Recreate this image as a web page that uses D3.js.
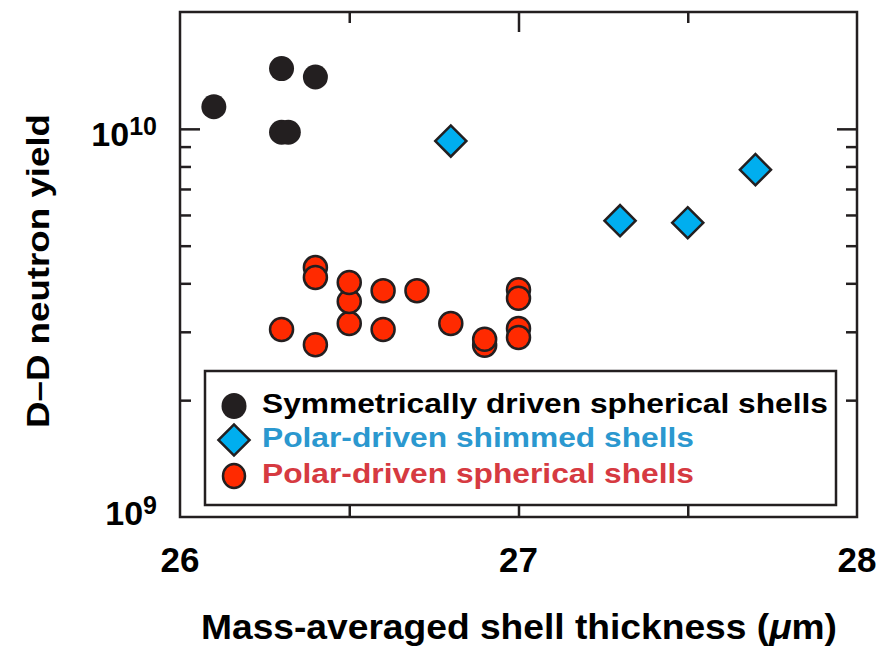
<!DOCTYPE html>
<html>
<head>
<meta charset="utf-8">
<script src="https://cdn.jsdelivr.net/npm/d3@7"></script>
<style>
    body { margin: 0; background: #fff; }
    text { font-family: "Liberation Sans", Arial, sans-serif; font-weight: bold; }
</style>
</head>
<body>
<div id="chart"></div>
<script>
// Symmetrically driven spherical shells
const symThickness = [26.1, 26.3, 26.4, 26.3, 26.32];
const symYield = [1.14e10, 1.43e10, 1.36e10, 9.8e9, 9.8e9];

// Polar-driven shimmed shells
const shimThickness = [26.8, 27.3, 27.5, 27.7];
const shimYield = [9.3e9, 5.8e9, 5.73e9, 7.85e9];

// Polar-driven spherical shells (drawing order matters for overlaps)
const sphThickness = [26.3, 26.4, 26.4, 26.4, 26.5, 26.5, 26.5, 26.6, 26.6, 26.7, 26.8, 26.9, 26.9, 27.0, 27.0, 27.0, 27.0];
const sphYield = [3.04e9, 4.39e9, 4.14e9, 2.78e9, 3.15e9, 3.59e9, 4.02e9, 3.83e9, 3.04e9, 3.83e9, 3.15e9, 2.77e9, 2.87e9, 3.85e9, 3.66e9, 3.06e9, 2.90e9];

const xTicks = [26, 27, 28];
const xMinorTicks = [26.5, 27.5];
const yMajorTicks = [1e10];
const yMinorTicks = [2e9, 3e9, 4e9, 5e9, 6e9, 7e9, 8e9, 9e9];
const yTickLabels = [{v: 1e9, exp: "9"}, {v: 1e10, exp: "10"}];

const legendLabels = ["Symmetrically driven spherical shells", "Polar-driven shimmed shells", "Polar-driven spherical shells"];

const ink = "#231f20";

const W = 886, H = 647;
const margin = {top: 12, right: 29, bottom: 130, left: 180};
const width = W - margin.left - margin.right;
const height = H - margin.top - margin.bottom;

const svg = d3.select("#chart").append("svg")
    .attr("width", W)
    .attr("height", H);

const g = svg.append("g")
    .attr("transform", `translate(${margin.left}, ${margin.top})`);

const x = d3.scaleLinear().domain([26, 28]).range([0, width]);
const y = d3.scaleLog().domain([1e9, 2e10]).range([height, 0]);

// ticks (all pointing inward)
function tickAxis(axis, values, size, transform) {
    const a = g.append("g")
        .attr("transform", transform)
        .call(axis.tickValues(values).tickSize(-size).tickFormat(""));
    a.select(".domain").remove();
    a.selectAll("line").attr("stroke", ink).attr("stroke-width", 2.5);
}
tickAxis(d3.axisLeft(y), yMajorTicks, 20, "translate(0,0)");
tickAxis(d3.axisLeft(y), yMinorTicks, 11, "translate(0,0)");
tickAxis(d3.axisRight(y), yMajorTicks, 20, `translate(${width},0)`);
tickAxis(d3.axisRight(y), yMinorTicks, 11, `translate(${width},0)`);
tickAxis(d3.axisTop(x), [27], 20, "translate(0,0)");
tickAxis(d3.axisTop(x), xMinorTicks, 11, "translate(0,0)");
tickAxis(d3.axisBottom(x), [27], 20, `translate(0,${height})`);
tickAxis(d3.axisBottom(x), xMinorTicks, 11, `translate(0,${height})`);

// frame
g.append("rect")
    .attr("width", width)
    .attr("height", height)
    .attr("fill", "none")
    .attr("stroke", ink)
    .attr("stroke-width", 2.5);

// x tick labels
g.selectAll(".xlabel")
    .data(xTicks)
    .join("text")
    .attr("class", "xlabel")
    .attr("x", d => x(d))
    .attr("y", height + 55)
    .attr("text-anchor", "middle")
    .attr("font-size", 35)
    .attr("fill", "#000")
    .text(d => d);

// y tick labels with superscripts
const yl = g.selectAll(".ylabel")
    .data(yTickLabels)
    .join("text")
    .attr("class", "ylabel")
    .attr("x", -23)
    .attr("y", d => y(d.v) + (d.v === 1e9 ? 8 : 17))
    .attr("text-anchor", "end")
    .attr("fill", "#000");
yl.append("tspan").attr("font-size", 34).text("10");
yl.append("tspan").attr("font-size", 25).attr("dy", -11).text(d => d.exp);

// axis titles
svg.append("text")
    .attr("x", 519)
    .attr("y", 639)
    .attr("text-anchor", "middle")
    .attr("font-size", 35)
    .attr("textLength", 636)
    .attr("lengthAdjust", "spacingAndGlyphs")
    .attr("fill", "#000")
    .html('Mass-averaged shell thickness (<tspan font-style="italic">μ</tspan>m)');

svg.append("text")
    .attr("transform", "translate(49, 271) rotate(-90)")
    .attr("text-anchor", "middle")
    .attr("font-size", 32)
    .attr("textLength", 314)
    .attr("lengthAdjust", "spacingAndGlyphs")
    .attr("fill", "#000")
    .text("D–D neutron yield");

// data marks
const sym = d3.zip(symThickness, symYield);
const shim = d3.zip(shimThickness, shimYield);
const sph = d3.zip(sphThickness, sphYield);

g.selectAll(".sym")
    .data(sym)
    .join("circle")
    .attr("class", "sym")
    .attr("cx", d => x(d[0]))
    .attr("cy", d => y(d[1]))
    .attr("r", 12.5)
    .attr("fill", ink);

const diamond = d3.symbol().type(d3.symbolSquare).size(22 * 22);

g.selectAll(".shim")
    .data(shim)
    .join("path")
    .attr("class", "shim")
    .attr("d", diamond)
    .attr("transform", d => `translate(${x(d[0])}, ${y(d[1])}) rotate(45)`)
    .attr("fill", "#00aeef")
    .attr("stroke", ink)
    .attr("stroke-width", 2.5);

g.selectAll(".sph")
    .data(sph)
    .join("circle")
    .attr("class", "sph")
    .attr("cx", d => x(d[0]))
    .attr("cy", d => y(d[1]))
    .attr("r", 11.5)
    .attr("fill", "#ff2a00")
    .attr("stroke", ink)
    .attr("stroke-width", 2.5);

// legend
const legend = svg.append("g")
    .attr("transform", "translate(205, 371)");

legend.append("rect")
    .attr("width", 631)
    .attr("height", 134)
    .attr("fill", "#fff")
    .attr("stroke", ink)
    .attr("stroke-width", 2.5);

const rowY = [35, 69, 105];
const legendColours = ["#000", "#2b98cf", "#d63a41"];
const legendWidths = [566, 432, 432];

legend.append("ellipse")
    .attr("cx", 29).attr("cy", rowY[0])
    .attr("rx", 12.5).attr("ry", 13)
    .attr("fill", ink);
legend.append("path")
    .attr("d", diamond)
    .attr("transform", `translate(29, ${rowY[1]}) rotate(45)`)
    .attr("fill", "#00aeef")
    .attr("stroke", ink)
    .attr("stroke-width", 2.5);
legend.append("ellipse")
    .attr("cx", 29).attr("cy", rowY[2])
    .attr("rx", 11).attr("ry", 12)
    .attr("fill", "#ff2a00")
    .attr("stroke", ink)
    .attr("stroke-width", 2.5);

legend.selectAll(".legend-label")
    .data(legendLabels)
    .join("text")
    .attr("class", "legend-label")
    .attr("x", 57)
    .attr("y", (d, i) => rowY[i] + 7)
    .attr("font-size", 27)
    .attr("textLength", (d, i) => legendWidths[i])
    .attr("lengthAdjust", "spacingAndGlyphs")
    .attr("fill", (d, i) => legendColours[i])
    .text(d => d);
</script>
</body>
</html>
